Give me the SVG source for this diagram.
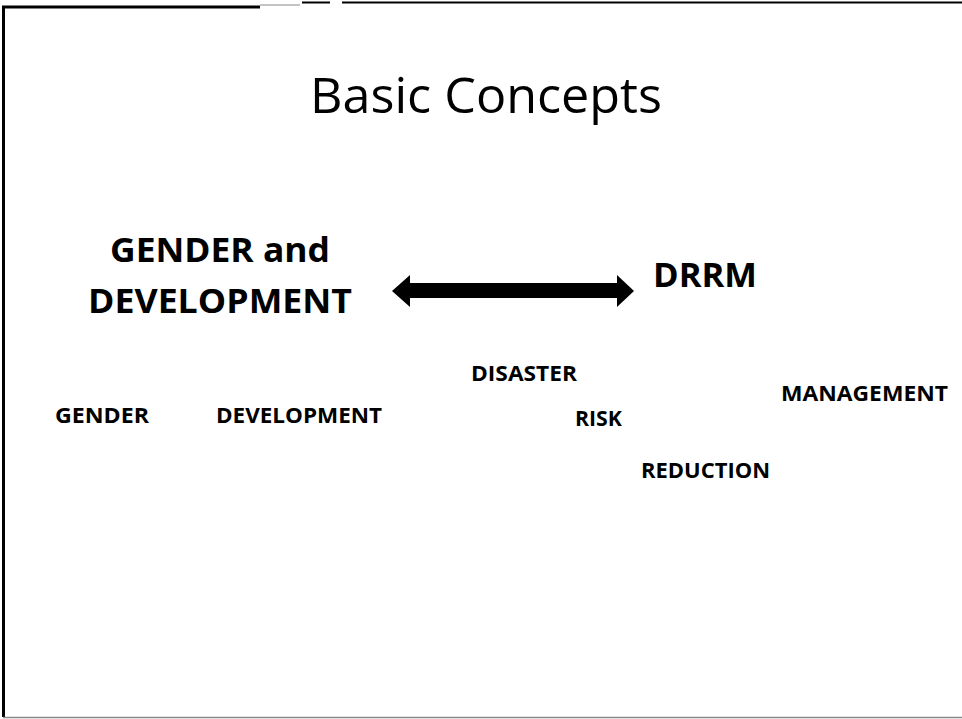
<svg xmlns="http://www.w3.org/2000/svg" width="962" height="719" viewBox="0 0 962 719">
<style>
text{font-family:"Open Sans","Liberation Sans",sans-serif;fill:#000}
.b{font-weight:bold}
.s{font-size:21px;font-weight:bold}
</style>
<rect width="962" height="719" fill="#fff"/>
<g id="frame" fill="none">
<path d="M3.5,717 V7 H260" stroke="#000" stroke-width="3"/>
<path d="M260,5 H300" stroke="#888" stroke-width="1"/>
<path d="M302,2.5 H330" stroke="#000" stroke-width="2"/>
<path d="M342,2.5 H962" stroke="#000" stroke-width="2"/>
<path d="M3,717.5 H962" stroke="#888" stroke-width="1.5"/>
</g>
<g id="title"><text x="310" y="113" font-size="50" textLength="352" lengthAdjust="spacingAndGlyphs">Basic Concepts</text></g>
<g id="gad"><text class="b" x="110" y="262" font-size="34" textLength="220" lengthAdjust="spacingAndGlyphs">GENDER and</text>
<text class="b" x="88" y="313" font-size="34" textLength="264" lengthAdjust="spacingAndGlyphs">DEVELOPMENT</text></g>
<g id="drrm"><text class="b" x="653" y="287" font-size="34" textLength="104" lengthAdjust="spacingAndGlyphs">DRRM</text></g>
<g id="connectors"><path d="M392,291 L410,275 V283 H617 V275 L634,291 L617,307 V298 H410 V307 Z" fill="#000"/></g>
<g id="w1"><text class="s" x="55" y="423" textLength="94" lengthAdjust="spacingAndGlyphs">GENDER</text></g>
<g id="w2"><text class="s" x="216" y="423" textLength="166" lengthAdjust="spacingAndGlyphs">DEVELOPMENT</text></g>
<g id="w3"><text class="s" x="471" y="381" textLength="106" lengthAdjust="spacingAndGlyphs">DISASTER</text></g>
<g id="w4"><text class="s" x="575" y="426" textLength="47" lengthAdjust="spacingAndGlyphs">RISK</text></g>
<g id="w5"><text class="s" x="641" y="478" textLength="129" lengthAdjust="spacingAndGlyphs">REDUCTION</text></g>
<g id="w6"><text class="s" x="781" y="401" textLength="167" lengthAdjust="spacingAndGlyphs">MANAGEMENT</text></g>
</svg>
